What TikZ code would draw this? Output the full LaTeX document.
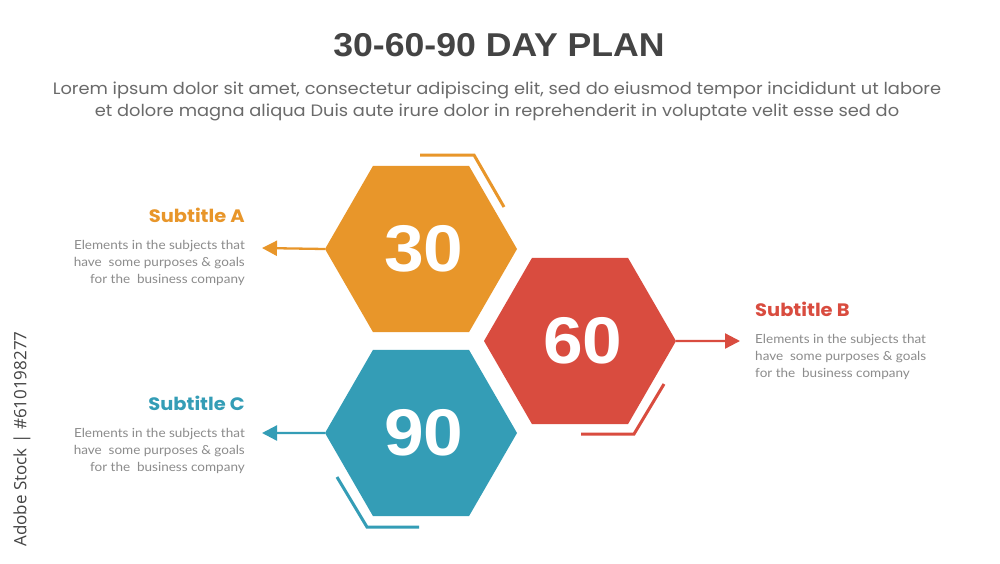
\documentclass[tikz,border=0pt]{standalone}
\usepackage{fontspec}
\setmainfont{Liberation Sans}
\newfontfamily\pop{Poppins}
\newfontfamily\lato{Lato}
\newfontfamily\dvs{Open Sans}
\usetikzlibrary{shapes.geometric,arrows.meta,calc}
\definecolor{cA}{HTML}{E8962A}
\definecolor{cB}{HTML}{D94C3F}
\definecolor{cC}{HTML}{349DB6}
\definecolor{ctitle}{HTML}{444444}
\definecolor{clorem}{HTML}{6A6A6A}
\definecolor{cdesc}{HTML}{8C8C8C}
\newcommand{\wide}[1]{\hspace{6pt}\scalebox{1.08}[1]{#1}}
\begin{document}
\begin{tikzpicture}[x=1pt,y=-1pt,
  hexa/.style={regular polygon,regular polygon sides=6,minimum size=192pt,inner sep=0pt,draw=none,fill=#1,text=white,font=\fontsize{66}{66}\selectfont\bfseries},
  deco/.style={draw=#1,line width=3pt,line cap=butt,line join=miter},
  conn/.style={draw=#1,line width=2.3pt,-{Triangle[length=15pt,width=15pt]}},
  subt/.style={text=#1,font=\pop\bfseries\fontsize{18}{20}\selectfont,inner sep=0pt,xscale=1.08},
  desc/.style={text=cdesc,font=\lato\fontsize{12.5}{17}\selectfont,inner sep=0pt,align=#1,xscale=1.08}
]
\useasboundingbox[fill=white] (0,0) rectangle (1000,563);

% title
\node[text=ctitle,font=\fontsize{33}{33}\selectfont\bfseries,inner sep=0pt,xscale=1.08] (title) at (499,45) {30-60-90 DAY PLAN};
\node[text=clorem,font=\pop\fontsize{16.5}{22}\selectfont,align=center,inner sep=0pt,xscale=1.08] (lorem) at (497,101)
 {Lorem ipsum dolor sit amet, consectetur adipiscing elit, sed do eiusmod tempor incididunt ut labore\\
  et dolore magna aliqua Duis aute irure dolor in reprehenderit in voluptate velit esse sed do};

% hexagons
\node[hexa=cA] (h30) at (421,249) {\wide{30}};
\node[hexa=cB] (h60) at (580,341) {\wide{60}};
\node[hexa=cC] (h90) at (421,433) {\wide{90}};

% decorative lines
\draw[deco=cA] ($(h30.center)+(-1,-94)$) -- ($(h30.center)+(53,-94)$) -- ($(h30.center)+(83,-42)$);
\draw[deco=cB] ($(h60.center)+(84,43)$) -- ($(h60.center)+(54,93)$) -- ($(h60.center)+(1,93)$);
\draw[deco=cC] ($(h90.center)+(-84,44)$) -- ($(h90.center)+(-54,94)$) -- ($(h90.center)+(-2,94)$);

% arrow ends
\coordinate (eA) at (262,248);
\coordinate (eB) at (740,341);
\coordinate (eC) at (262,433);
\draw[conn=cA] (h30.west) -- (eA);
\draw[conn=cB] (h60.east) -- (eB);
\draw[conn=cC] (h90.west) -- (eC);

% texts
\node[subt=cA,anchor=east] (sA) at (245,215) {Subtitle A};
\node[desc=right,anchor=north east] (dA) at (245,240) {Elements in the subjects that\\have\ \ some purposes \& goals\\for the\ \ business company};
\node[subt=cB,anchor=west] (sB) at (755,309) {Subtitle B};
\node[desc=left,anchor=north west] (dB) at (755,334) {Elements in the subjects that\\have\ \ some purposes \& goals\\for the\ \ business company};
\node[subt=cC,anchor=east] (sC) at (245,403) {Subtitle C};
\node[desc=right,anchor=north east] (dC) at (245,428) {Elements in the subjects that\\have\ \ some purposes \& goals\\for the\ \ business company};

% side mark
\node[rotate=90,text=ctitle,font=\dvs\fontsize{17}{17}\selectfont,inner sep=0pt] (mark) at (22,439) {Adobe Stock | \#610198277};
\end{tikzpicture}
\end{document}
